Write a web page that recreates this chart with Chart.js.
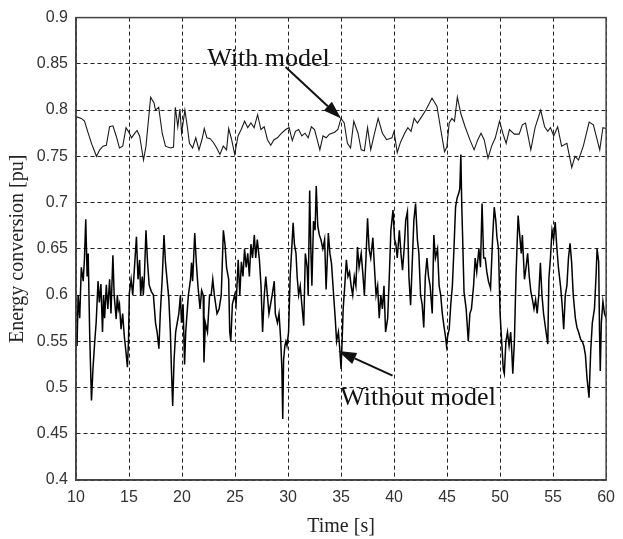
<!DOCTYPE html>
<html>
<head>
<meta charset="utf-8">
<script src="https://cdn.jsdelivr.net/npm/chart.js"></script>
<style>
  html, body { margin: 0; padding: 0; background: #fff; }
  #wrap { width: 623px; height: 539px; }
</style>
</head>
<body>
<div id="wrap"><canvas id="energyChart"></canvas></div>
<script>
// x ticks / y ticks
const timeTicks = [10, 15, 20, 25, 30, 35, 40, 45, 50, 55, 60];
const energyTicks = [0.4, 0.45, 0.5, 0.55, 0.6, 0.65, 0.7, 0.75, 0.8, 0.85, 0.9];

// "With model" curve
const withModelTime = [
  10.0, 10.5, 10.8, 11.15, 11.46, 11.93, 12.24, 12.55, 12.86, 13.17, 13.48, 13.79, 14.1, 14.41, 14.72, 14.94,
  15.24, 15.55, 15.76, 16.0, 16.37, 16.6, 17.04, 17.35, 17.5, 17.8, 18.13, 18.44, 18.9, 19.2, 19.37, 19.6,
  19.8, 19.96, 20.27, 20.5, 20.7, 21.0, 21.3, 21.6, 21.9, 22.1, 22.35, 22.66, 22.96, 23.27, 23.58, 23.89,
  24.2, 24.4, 24.66, 24.97, 25.28, 25.58, 25.9, 26.2, 26.5, 26.8, 27.13, 27.44, 27.75, 28.06, 28.37, 28.68,
  29.0, 29.3, 29.77, 30.1, 30.4, 30.7, 31.0, 31.3, 31.6, 31.9, 32.2, 32.5, 33.0, 33.3, 33.6, 33.9, 34.4,
  34.7, 35.0, 35.3, 35.6, 35.9, 36.2, 36.6, 36.9, 37.2, 37.5, 37.8, 38.1, 38.5, 38.9, 39.3, 39.8, 40.0,
  40.3, 40.6, 41.0, 41.3, 41.6, 41.9, 42.2, 42.5, 43.0, 43.58, 44.05, 44.36, 44.76, 44.98, 45.2, 45.45,
  45.7, 45.97, 46.3, 46.7, 47.15, 47.55, 47.9, 48.2, 48.5, 48.86, 49.2, 49.55, 49.95, 50.26, 50.57, 50.88,
  51.35, 51.8, 52.1, 52.4, 52.9, 53.3, 53.83, 54.2, 54.5, 54.75, 55.06, 55.43, 55.8, 56.3, 56.76, 57.07,
  57.4, 57.85, 58.4, 58.8, 59.4, 59.7, 60.0
];
const withModelValue = [
  0.793, 0.791, 0.788, 0.775, 0.764, 0.750, 0.757, 0.761, 0.762, 0.782, 0.783, 0.772, 0.759, 0.761, 0.781, 0.777,
  0.770, 0.775, 0.778, 0.772, 0.746, 0.761, 0.814, 0.808, 0.800, 0.803, 0.775, 0.761, 0.759, 0.760, 0.803, 0.782,
  0.801, 0.775, 0.800, 0.782, 0.764, 0.759, 0.770, 0.757, 0.769, 0.780, 0.770, 0.769, 0.765, 0.759, 0.752, 0.761,
  0.757, 0.780, 0.769, 0.752, 0.772, 0.779, 0.788, 0.781, 0.786, 0.781, 0.795, 0.779, 0.782, 0.768, 0.762, 0.768,
  0.770, 0.774, 0.779, 0.781, 0.767, 0.777, 0.779, 0.772, 0.775, 0.770, 0.782, 0.779, 0.757, 0.772, 0.770, 0.774, 0.776,
  0.779, 0.791, 0.786, 0.764, 0.759, 0.788, 0.775, 0.757, 0.756, 0.781, 0.757, 0.772, 0.791, 0.775, 0.768, 0.770, 0.777,
  0.754, 0.765, 0.775, 0.781, 0.777, 0.791, 0.786, 0.791, 0.800, 0.813, 0.804, 0.782, 0.755, 0.760, 0.786, 0.791,
  0.788, 0.814, 0.796, 0.782, 0.768, 0.757, 0.768, 0.775, 0.768, 0.748, 0.761, 0.770, 0.788, 0.775, 0.764, 0.779,
  0.774, 0.774, 0.784, 0.786, 0.757, 0.781, 0.800, 0.782, 0.777, 0.781, 0.772, 0.782, 0.761, 0.764, 0.738, 0.750,
  0.746, 0.761, 0.787, 0.784, 0.757, 0.781, 0.780
];

// "Without model" curve
const withoutModelTime = [
  10.0, 10.1, 10.2, 10.35, 10.5, 10.68, 10.8, 10.92, 11.05, 11.15, 11.3, 11.46, 11.6, 11.77, 11.9, 12.08,
  12.2, 12.35, 12.5, 12.6, 12.7, 12.86, 13.0, 13.17, 13.3, 13.48, 13.6, 13.79, 13.9, 14.0, 14.1, 14.25,
  14.4, 14.56, 14.7, 14.85, 14.95, 15.03, 15.2, 15.35, 15.5, 15.7, 15.85, 16.0, 16.1, 16.25, 16.35, 16.45,
  16.6, 16.75, 16.9, 17.1, 17.3, 17.5, 17.65, 17.82, 17.95, 18.13, 18.3, 18.44, 18.6, 18.75, 18.9, 19.0,
  19.12, 19.25, 19.4, 19.5, 19.7, 19.85, 19.95, 20.1, 20.24, 20.35, 20.46, 20.6, 20.8, 20.9, 21.0, 21.2,
  21.35, 21.5, 21.7, 21.85, 22.0, 22.07, 22.2, 22.4, 22.6, 22.75, 22.9, 23.05, 23.3, 23.5, 23.7, 23.9,
  24.05, 24.2, 24.4, 24.5, 24.6, 24.75, 24.96, 25.1, 25.3, 25.45, 25.6, 25.75, 25.9, 26.05, 26.2, 26.35,
  26.5, 26.65, 26.82, 26.95, 27.1, 27.3, 27.45, 27.6, 27.76, 27.9, 28.05, 28.2, 28.35, 28.5, 28.7, 28.8,
  29.0, 29.15, 29.3, 29.42, 29.5, 29.58, 29.7, 29.8, 29.9, 30.05, 30.2, 30.35, 30.48, 30.6, 30.75, 30.86,
  31.0, 31.15, 31.3, 31.48, 31.63, 31.8, 31.9, 32.04, 32.15, 32.25, 32.4, 32.55, 32.66, 32.8, 32.95, 33.1,
  33.28, 33.45, 33.59, 33.8, 33.95, 34.1, 34.3, 34.45, 34.58, 34.75, 34.89, 35.0, 35.1, 35.2, 35.35, 35.5,
  35.65, 35.8, 35.95, 36.1, 36.25, 36.4, 36.55, 36.7, 36.9, 37.05, 37.2, 37.35, 37.5, 37.65, 37.8, 38.0,
  38.15, 38.3, 38.45, 38.6, 38.75, 38.9, 39.05, 39.2, 39.4, 39.55, 39.7, 39.9, 40.05, 40.17, 40.3, 40.5,
  40.65, 40.8, 40.95, 41.1, 41.26, 41.4, 41.56, 41.7, 41.87, 42.03, 42.2, 42.34, 42.5, 42.65, 42.8, 42.95,
  43.1, 43.25, 43.4, 43.6, 43.75, 43.9, 44.1, 44.25, 44.4, 44.55, 44.7, 44.85, 44.95, 45.05, 45.2, 45.35,
  45.5, 45.65, 45.8, 45.95, 46.1, 46.2, 46.3, 46.38, 46.45, 46.6, 46.8, 47.0, 47.15, 47.3, 47.5, 47.65,
  47.8, 48.0, 48.15, 48.3, 48.45, 48.6, 48.75, 48.9, 49.1, 49.3, 49.45, 49.6, 49.7, 49.85, 50.0, 50.15,
  50.3, 50.4, 50.55, 50.7, 50.85, 51.0, 51.1, 51.2, 51.35, 51.5, 51.7, 51.85, 52.0, 52.1, 52.3, 52.45,
  52.6, 52.75, 52.9, 53.05, 53.2, 53.35, 53.5, 53.65, 53.8, 53.95, 54.1, 54.3, 54.5, 54.6, 54.75, 54.9,
  55.05, 55.2, 55.35, 55.5, 55.7, 55.85, 56.0, 56.15, 56.3, 56.45, 56.6, 56.75, 56.9, 57.1, 57.25, 57.4,
  57.6, 57.75, 57.9, 58.05, 58.2, 58.39, 58.55, 58.7, 58.9, 59.05, 59.15, 59.3, 59.38, 59.45, 59.55, 59.7,
  59.85, 60.0
];
const withoutModelValue = [
  0.560, 0.545, 0.600, 0.575, 0.630, 0.615, 0.640, 0.682, 0.620, 0.645, 0.553, 0.486, 0.520, 0.550, 0.570, 0.615,
  0.592, 0.612, 0.560, 0.600, 0.575, 0.611, 0.585, 0.617, 0.580, 0.643, 0.600, 0.574, 0.600, 0.585, 0.590, 0.563,
  0.580, 0.555, 0.540, 0.522, 0.550, 0.602, 0.617, 0.600, 0.627, 0.663, 0.617, 0.638, 0.600, 0.620, 0.600, 0.620,
  0.670, 0.635, 0.611, 0.604, 0.600, 0.570, 0.560, 0.542, 0.580, 0.617, 0.665, 0.635, 0.615, 0.597, 0.560, 0.520,
  0.480, 0.530, 0.560, 0.567, 0.580, 0.600, 0.570, 0.590, 0.525, 0.560, 0.578, 0.600, 0.617, 0.635, 0.615, 0.667,
  0.635, 0.610, 0.585, 0.605, 0.600, 0.527, 0.570, 0.560, 0.600, 0.600, 0.617, 0.600, 0.580, 0.585, 0.600, 0.670,
  0.655, 0.630, 0.617, 0.560, 0.550, 0.590, 0.600, 0.590, 0.638, 0.600, 0.636, 0.620, 0.650, 0.630, 0.645, 0.620,
  0.655, 0.640, 0.665, 0.640, 0.660, 0.638, 0.610, 0.560, 0.600, 0.620, 0.600, 0.580, 0.590, 0.600, 0.615, 0.580,
  0.570, 0.580, 0.553, 0.520, 0.466, 0.530, 0.545, 0.550, 0.545, 0.560, 0.620, 0.650, 0.678, 0.655, 0.645, 0.620,
  0.600, 0.610, 0.590, 0.567, 0.645, 0.630, 0.600, 0.713, 0.650, 0.610, 0.680, 0.670, 0.718, 0.675, 0.665, 0.660,
  0.650, 0.660, 0.606, 0.667, 0.645, 0.634, 0.600, 0.575, 0.550, 0.560, 0.540, 0.520, 0.550, 0.585, 0.610, 0.638,
  0.620, 0.625, 0.610, 0.600, 0.620, 0.610, 0.652, 0.630, 0.645, 0.624, 0.600, 0.640, 0.683, 0.649, 0.640, 0.662,
  0.630, 0.600, 0.610, 0.575, 0.600, 0.585, 0.610, 0.560, 0.575, 0.620, 0.670, 0.692, 0.660, 0.655, 0.640, 0.670,
  0.645, 0.627, 0.650, 0.681, 0.690, 0.620, 0.589, 0.630, 0.681, 0.699, 0.660, 0.645, 0.600, 0.590, 0.565, 0.620,
  0.640, 0.620, 0.610, 0.580, 0.665, 0.640, 0.650, 0.610, 0.600, 0.580, 0.567, 0.555, 0.545, 0.555, 0.563, 0.590,
  0.610, 0.650, 0.695, 0.705, 0.710, 0.715, 0.752, 0.700, 0.670, 0.603, 0.585, 0.550, 0.580, 0.585, 0.610, 0.640,
  0.625, 0.650, 0.630, 0.699, 0.640, 0.640, 0.625, 0.615, 0.607, 0.663, 0.695, 0.680, 0.663, 0.650, 0.580, 0.550,
  0.520, 0.515, 0.550, 0.560, 0.545, 0.560, 0.540, 0.515, 0.550, 0.620, 0.686, 0.665, 0.645, 0.665, 0.617, 0.630,
  0.645, 0.620, 0.604, 0.595, 0.585, 0.595, 0.580, 0.600, 0.635, 0.600, 0.580, 0.563, 0.547, 0.617, 0.640, 0.670,
  0.660, 0.679, 0.652, 0.630, 0.610, 0.590, 0.563, 0.600, 0.610, 0.640, 0.656, 0.635, 0.600, 0.575, 0.565, 0.560,
  0.552, 0.550, 0.545, 0.535, 0.510, 0.489, 0.540, 0.570, 0.585, 0.620, 0.650, 0.636, 0.560, 0.518, 0.570, 0.593,
  0.580, 0.575
];

// text labels with arrows, anchored in data units
const notes = [
  { text: 'With model', textAt: [22.38, 0.848], from: [29.77, 0.8465], to: [35.0, 0.791] },
  { text: 'Without model', textAt: [34.92, 0.4806], from: [39.86, 0.5128], to: [34.74, 0.5395] }
];

function pairs(xs, ys) {
  return xs.map((x, i) => ({ x: x, y: ys[i] }));
}

const boxPlugin = {
  id: 'box',
  afterDatasetsDraw(chart) {
    const ctx = chart.ctx;
    const a = chart.chartArea;
    ctx.save();
    ctx.strokeStyle = '#444';
    ctx.lineWidth = 1.5;
    ctx.strokeRect(a.left, a.top, a.right - a.left, a.bottom - a.top);
    ctx.restore();
  }
};

const notesPlugin = {
  id: 'notes',
  afterDatasetsDraw(chart) {
    const ctx = chart.ctx;
    const xs = chart.scales.x, ys = chart.scales.y;
    ctx.save();
    notes.forEach(n => {
      const tx = xs.getPixelForValue(n.textAt[0]);
      const ty = ys.getPixelForValue(n.textAt[1]);
      ctx.font = '26px "Liberation Serif", "Times New Roman", serif';
      ctx.fillStyle = '#111';
      ctx.textAlign = 'left';
      ctx.textBaseline = 'alphabetic';
      ctx.fillText(n.text, tx, ty);

      const x1 = xs.getPixelForValue(n.from[0]), y1 = ys.getPixelForValue(n.from[1]);
      const x2 = xs.getPixelForValue(n.to[0]), y2 = ys.getPixelForValue(n.to[1]);
      const ang = Math.atan2(y2 - y1, x2 - x1);
      const headLen = 18, headW = 6;
      const bx = x2 - headLen * Math.cos(ang), by = y2 - headLen * Math.sin(ang);
      ctx.strokeStyle = '#111';
      ctx.lineWidth = 2;
      ctx.beginPath();
      ctx.moveTo(x1, y1);
      ctx.lineTo(bx, by);
      ctx.stroke();
      ctx.fillStyle = '#111';
      ctx.beginPath();
      ctx.moveTo(x2, y2);
      ctx.lineTo(bx + headW * Math.sin(ang), by - headW * Math.cos(ang));
      ctx.lineTo(bx - headW * Math.sin(ang), by + headW * Math.cos(ang));
      ctx.closePath();
      ctx.fill();
    });
    ctx.restore();
  }
};

const tickFont = { family: '"Liberation Sans", Arial, sans-serif', size: 16 };
const titleFont = { family: '"Liberation Serif", "Times New Roman", serif', size: 20 };

new Chart(document.getElementById('energyChart'), {
  type: 'line',
  data: {
    datasets: [
      {
        label: 'With model',
        data: pairs(withModelTime, withModelValue),
        borderColor: '#1a1a1a',
        borderWidth: 1.1,
        pointRadius: 0,
        tension: 0
      },
      {
        label: 'Without model',
        data: pairs(withoutModelTime, withoutModelValue),
        borderColor: '#000',
        borderWidth: 1.5,
        pointRadius: 0,
        tension: 0
      }
    ]
  },
  options: {
    responsive: true,
    maintainAspectRatio: false,
    animation: false,
    layout: { padding: { top: 13, right: 10, left: 0, bottom: 0 } },
    plugins: {
      legend: { display: false },
      tooltip: { enabled: false }
    },
    scales: {
      x: {
        type: 'linear',
        min: 10,
        max: 60,
        afterBuildTicks: s => { s.ticks = timeTicks.map(v => ({ value: v })); },
        afterFit: s => { s.height = 59; },
        ticks: { font: tickFont, color: '#333', padding: 8, maxRotation: 0 },
        grid: { color: '#222', lineWidth: 1, drawTicks: false },
        border: { color: '#444', width: 1.5, dash: [4, 3] },
        title: { display: true, text: 'Time [s]', font: titleFont, color: '#222', padding: { top: 0, bottom: 0 } }
      },
      y: {
        min: 0.4,
        max: 0.9,
        afterBuildTicks: s => { s.ticks = energyTicks.map(v => ({ value: v })); },
        afterFit: s => { s.width = 76; },
        ticks: { font: tickFont, color: '#333', padding: 8, callback: v => String(v) },
        grid: { color: '#222', lineWidth: 1, drawTicks: false },
        border: { color: '#444', width: 1.5, dash: [4, 3] },
        title: { display: true, text: 'Energy conversion [pu]', font: titleFont, color: '#222', padding: { top: 6, bottom: 0 } }
      }
    }
  },
  plugins: [boxPlugin, notesPlugin]
});
</script>
</body>
</html>
